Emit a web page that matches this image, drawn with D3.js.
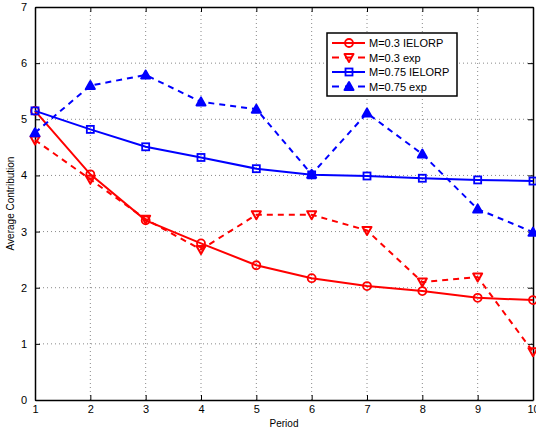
<!DOCTYPE html>
<html>
<head>
<meta charset="utf-8">
<script src="https://cdn.jsdelivr.net/npm/d3@7"></script>
<style>
  body { margin: 0; background: #fff; }
  text { font-family: "Liberation Sans", Arial, sans-serif; }
</style>
</head>
<body>
<div id="chart"></div>
<script>
const periods = [1, 2, 3, 4, 5, 6, 7, 8, 9, 10];
const m03Ielorp = [5.15, 4.02, 3.2, 2.79, 2.4, 2.17, 2.03, 1.94, 1.82, 1.78];
const m03Exp = [4.63, 3.93, 3.22, 2.68, 3.3, 3.3, 3.02, 2.1, 2.19, 0.86];
const m075Ielorp = [5.15, 4.82, 4.51, 4.32, 4.12, 4.01, 3.99, 3.95, 3.92, 3.9];
const m075Exp = [4.76, 5.6, 5.79, 5.31, 5.18, 4.02, 5.11, 4.38, 3.4, 2.99];
const yTicks = [0, 1, 2, 3, 4, 5, 6, 7];

const series = [
  { name: "M=0.3 IELORP", values: m03Ielorp, color: "#ff0000", dash: null, marker: "circle" },
  { name: "M=0.3 exp", values: m03Exp, color: "#ff0000", dash: "6,5", marker: "down" },
  { name: "M=0.75 IELORP", values: m075Ielorp, color: "#0000ff", dash: null, marker: "square" },
  { name: "M=0.75 exp", values: m075Exp, color: "#0000ff", dash: "6,5", marker: "up" },
];

const width = 536, height = 430;
const margins = { top: 7, right: 3, bot: 30, left: 35 };
const chartWidth = width - margins.left - margins.right;
const chartHeight = height - margins.top - margins.bot;

const xScale = d3.scaleLinear().domain([1, 10]).range([0, chartWidth]);
const yScale = d3.scaleLinear().domain([0, 7]).range([chartHeight, 0]);

const svg = d3.select("#chart").append("svg")
  .attr("width", width).attr("height", height);
const g = svg.append("g")
  .attr("transform", `translate(${margins.left},${margins.top})`);

// dotted grid
g.append("g").selectAll("line").data(periods.slice(1, -1)).join("line")
  .attr("x1", d => xScale(d)).attr("x2", d => xScale(d))
  .attr("y1", 0).attr("y2", chartHeight)
  .attr("stroke", "#8a8a8a").attr("stroke-width", 1).attr("stroke-dasharray", "1,3");
g.append("g").selectAll("line").data(yTicks.slice(1, -1)).join("line")
  .attr("y1", d => yScale(d)).attr("y2", d => yScale(d))
  .attr("x1", 0).attr("x2", chartWidth)
  .attr("stroke", "#8a8a8a").attr("stroke-width", 1).attr("stroke-dasharray", "1,3");

// axes (matlab style, ticks inward on all sides)
const xAxis = d3.axisBottom(xScale).tickValues(periods).tickFormat(d3.format("d"))
  .tickSize(-5).tickPadding(5).tickSizeOuter(0);
const yAxis = d3.axisLeft(yScale).tickValues(yTicks).tickFormat(d3.format("d"))
  .tickSize(-5).tickPadding(8).tickSizeOuter(0);
g.append("g").attr("transform", `translate(0,${chartHeight})`).call(xAxis);
g.append("g").call(yAxis);
g.append("g").call(d3.axisTop(xScale).tickValues(periods).tickSize(-5).tickFormat("").tickSizeOuter(0));
g.append("g").attr("transform", `translate(${chartWidth},0)`)
  .call(d3.axisRight(yScale).tickValues(yTicks).tickSize(-5).tickFormat("").tickSizeOuter(0));
svg.selectAll(".domain").attr("stroke", "#000").attr("stroke-width", 1.5);
svg.selectAll(".tick line").attr("stroke", "#000");
svg.selectAll(".tick text").attr("font-size", 11).attr("fill", "#000")
  .attr("font-family", "Liberation Sans, Arial, sans-serif");

// axis labels
g.append("text").text("Period")
  .attr("x", chartWidth / 2).attr("y", chartHeight + 27)
  .attr("text-anchor", "middle").attr("font-size", 10);
g.append("text").text("Average Contribution")
  .attr("transform", "rotate(-90)")
  .attr("x", -chartHeight / 2).attr("y", -21)
  .attr("text-anchor", "middle").attr("font-size", 10);

function drawMarker(sel, type, color) {
  if (type === "circle") {
    sel.append("circle").attr("r", 4).attr("fill", "none").attr("stroke", color).attr("stroke-width", 1.8);
  } else if (type === "square") {
    sel.append("rect").attr("x", -3.5).attr("y", -3.5).attr("width", 7).attr("height", 7)
      .attr("fill", "none").attr("stroke", color).attr("stroke-width", 1.8);
  } else if (type === "down") {
    sel.append("path").attr("d", "M-4.5,-3.5L4.5,-3.5L0,4.5Z").attr("fill", "none")
      .attr("stroke", color).attr("stroke-width", 2).attr("stroke-linejoin", "round");
  } else {
    sel.append("path").attr("d", "M-4.5,3.5L4.5,3.5L0,-4.5Z").attr("fill", color)
      .attr("stroke", color).attr("stroke-width", 2).attr("stroke-linejoin", "round");
  }
}

const line = d3.line().x((d, i) => xScale(periods[i])).y(d => yScale(d));

series.forEach(s => {
  g.append("path").datum(s.values)
    .attr("d", line).attr("fill", "none")
    .attr("stroke", s.color).attr("stroke-width", 2)
    .attr("stroke-dasharray", s.dash);
  g.append("g").selectAll("g").data(s.values).join("g")
    .attr("transform", (d, i) => `translate(${xScale(periods[i])},${yScale(d)})`)
    .each(function () { drawMarker(d3.select(this), s.marker, s.color); });
});

// legend
const legend = svg.append("g").attr("transform", "translate(327,33)");
legend.append("rect").attr("width", 130).attr("height", 63)
  .attr("fill", "#fff").attr("stroke", "#000").attr("stroke-width", 1.5);
series.forEach((s, i) => {
  const row = legend.append("g").attr("transform", `translate(0,${10 + i * 14.5})`);
  row.append("line").attr("x1", 5).attr("x2", 38).attr("y1", 0).attr("y2", 0)
    .attr("stroke", s.color).attr("stroke-width", 2).attr("stroke-dasharray", s.dash ? "7,6" : null);
  const m = row.append("g").attr("transform", "translate(22,0)");
  drawMarker(m, s.marker, s.color);
  row.append("text").text(s.name).attr("x", 42).attr("y", 4).attr("font-size", 11);
});
</script>
</body>
</html>
